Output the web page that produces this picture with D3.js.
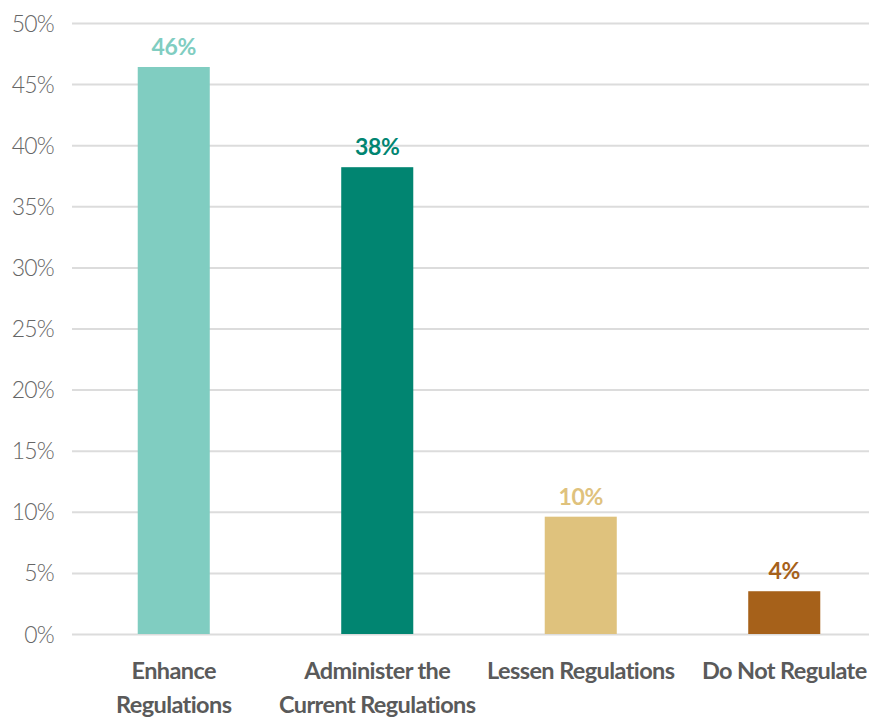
<!DOCTYPE html>
<html><head><meta charset="utf-8">
<script src="https://cdn.jsdelivr.net/npm/d3@7"></script>
<style>
body{margin:0;background:#fff;}
svg{display:block;}
</style></head>
<body>
<svg id="c" width="869" height="719"></svg>
<script>
const categories = [["Enhance","Regulations"],["Administer the","Current Regulations"],["Lessen Regulations"],["Do Not Regulate"]];
const values = [46.4, 38.2, 9.6, 3.5];
const valueLabels = ["46%","38%","10%","4%"];
const colors = ["#80cdc1","#018571","#dfc27d","#a6611a"];
const yTicks = [0,5,10,15,20,25,30,35,40,45,50];

const svg = d3.select("#c");
const W = 869;
const y = d3.scaleLinear().domain([0,50]).range([634,23]);
const x = d3.scaleBand().domain(d3.range(values.length)).range([72,886]).paddingInner(0.646).paddingOuter(0.323);

const yAxis = d3.axisLeft(y).tickValues(yTicks).tickFormat(d=>d+"%").tickSize(-(W-72)).tickPadding(18);
const gy = svg.append("g").attr("transform","translate(72,0)").call(yAxis);
gy.select(".domain").remove();
gy.selectAll(".tick line").attr("stroke","#dcdcdc").attr("stroke-width",2);
gy.selectAll(".tick text").attr("fill","#666").attr("font-family","Lato, 'Open Sans', sans-serif").attr("font-weight",300).attr("font-size",23).attr("letter-spacing","-0.8px").attr("dy","0.35em");

svg.append("g").selectAll("rect").data(values).join("rect")
  .attr("x",(d,i)=>x(i)).attr("width",x.bandwidth())
  .attr("y",d=>y(d)).attr("height",d=>y(0)-y(d))
  .attr("fill",(d,i)=>colors[i]);

svg.append("g").selectAll("text").data(values).join("text")
  .attr("x",(d,i)=>x(i)+x.bandwidth()/2).attr("y",d=>y(d)-12)
  .attr("text-anchor","middle").attr("fill",(d,i)=>colors[i])
  .attr("font-family","Lato, sans-serif").attr("font-weight",700).attr("font-size",23)
  .attr("letter-spacing","-0.3px")
  .text((d,i)=>valueLabels[i]);

const xl = svg.append("g").selectAll("text").data(categories).join("text")
  .attr("text-anchor","middle").attr("fill","#5a5a5a")
  .attr("font-family","Lato, sans-serif").attr("font-weight",700).attr("font-size",23.5)
  .attr("letter-spacing","-0.6px")
  .attr("x",(d,i)=>x(i)+x.bandwidth()/2).attr("y",679);
xl.selectAll("tspan").data(d=>d).join("tspan")
  .attr("x",function(){return this.parentNode.getAttribute("x");})
  .attr("dy",(d,j)=>j===0?0:34).text(d=>d);
</script>
</body></html>
